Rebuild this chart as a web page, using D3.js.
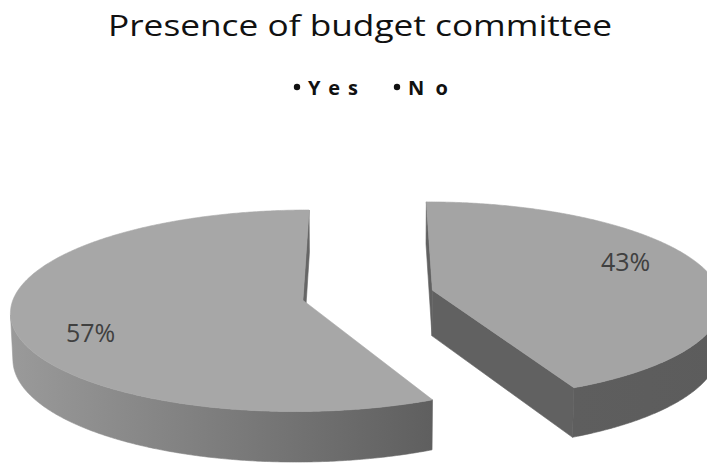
<!DOCTYPE html>
<html>
<head>
<meta charset="utf-8">
<script src="https://cdn.jsdelivr.net/npm/d3@7"></script>
<style>
  html, body { margin: 0; padding: 0; background: #fff; }
  svg { display: block; }
</style>
</head>
<body>
<svg id="chart" width="707" height="463"></svg>
<script>
// ---- data ----
const categories = ["Yes", "No"];
const values = [43, 57];
const valueLabels = ["43%", "57%"];
const chartTitle = "Presence of budget committee";

// ---- styles ----
const topColors = ["#a4a4a4", "#a7a7a7"];
const sideStops = [
  ["#606060", "#5c5c5c"],          // Yes: flat dark wall
  ["#9a9a9a", "#5f5f5f"]           // No: lighter on the left, darker towards the front
];
const cutColors = ["#616161", "#666666"];

const W = 707, H = 463;
const svg = d3.select("#chart");
const defs = svg.append("defs");

// ---- 3D pie camera (world units, pie radius = 1) ----
const tilt = 21 * Math.PI / 180;
const camDist = 9;
const focal = 2579;
const thickness = 0.17;
const explode = 0.23;
const originX = 368, originY = 341;
const cosT = Math.cos(tilt), sinT = Math.sin(tilt);

function project(x, y, z) {
  const d = camDist + z * cosT - y * sinT;
  return [originX + focal * x / d, originY - focal * (y * cosT + z * sinT) / d];
}
function area2(pts) {
  let s = 0;
  for (let i = 0; i < pts.length; i++) {
    const a = pts[i], b = pts[(i + 1) % pts.length];
    s += a[0] * b[1] - b[0] * a[1];
  }
  return s;
}
const line = d3.line();
const closed = pts => line(pts) + "Z";

const arcs = d3.pie().sort(null).value(d => d)(values);

const slices = arcs.map((p, i) => {
  const mid = (p.startAngle + p.endAngle) / 2;
  return { p, i, mid, ox: explode * Math.sin(mid), oz: explode * Math.cos(mid) };
});
// back slices first
slices.sort((a, b) => b.oz - a.oz);

const g = svg.append("g");

slices.forEach(s => {
  const { p, i, ox, oz } = s;
  const span = p.endAngle - p.startAngle;
  const n = Math.max(2, Math.ceil(span / (Math.PI / 360)));
  const angs = d3.range(n + 1).map(k => p.startAngle + span * k / n);
  const rimTop = angs.map(a => project(ox + Math.sin(a), thickness, oz + Math.cos(a)));
  const rimBot = angs.map(a => project(ox + Math.sin(a), 0, oz + Math.cos(a)));
  const cTop = project(ox, thickness, oz);
  const cBot = project(ox, 0, oz);

  const sg = g.append("g").attr("class", "slice slice-" + categories[i]);

  // gradient for the outer wall
  const xs = rimTop.map(d => d[0]);
  const gradId = "side-" + i;
  const grad = defs.append("linearGradient").attr("id", gradId)
    .attr("gradientUnits", "userSpaceOnUse")
    .attr("x1", d3.min(xs)).attr("x2", d3.max(xs)).attr("y1", 0).attr("y2", 0);
  grad.append("stop").attr("offset", 0).attr("stop-color", sideStops[i][0]);
  grad.append("stop").attr("offset", 1).attr("stop-color", sideStops[i][1]);

  // radial cut faces (only those facing the camera)
  const startFace = [cTop, rimTop[0], rimBot[0], cBot];
  const endFace = [rimTop[n], cTop, cBot, rimBot[n]];
  [startFace, endFace].forEach(face => {
    if (area2(face) < 0) {
      sg.append("path").attr("d", closed(face))
        .attr("fill", cutColors[i]).attr("stroke", cutColors[i]).attr("stroke-width", 0.6);
    }
  });

  // outer wall: runs of segments that face the camera
  const visible = d3.range(n).map(k => area2([rimTop[k], rimTop[k + 1], rimBot[k + 1], rimBot[k]]) < 0);
  let k = 0;
  while (k < n) {
    if (!visible[k]) { k++; continue; }
    let e = k;
    while (e + 1 < n && visible[e + 1]) e++;
    const poly = rimTop.slice(k, e + 2).concat(rimBot.slice(k, e + 2).reverse());
    sg.append("path").attr("d", closed(poly))
      .attr("fill", `url(#${gradId})`).attr("stroke", `url(#${gradId})`).attr("stroke-width", 0.6);
    k = e + 1;
  }

  // top face
  sg.append("path").attr("d", closed([cTop].concat(rimTop)))
    .attr("fill", topColors[i]).attr("stroke", topColors[i]).attr("stroke-width", 0.6);

  // value label on the top face, a little behind the bisector
  const r = 0.765, la = s.mid - 0.19;
  const lp = project(ox + r * Math.sin(la), thickness, oz + r * Math.cos(la));
  sg.append("text")
    .attr("x", lp[0]).attr("y", lp[1])
    .attr("text-anchor", "middle").attr("dominant-baseline", "central")
    .attr("font-family", "'Open Sans', sans-serif").attr("font-size", 25)
    .attr("fill", "#404040")
    .text(valueLabels[i]);
});

// ---- title ----
svg.append("text")
  .attr("x", 360).attr("y", 36)
  .attr("text-anchor", "middle")
  .attr("font-family", "'Open Sans', sans-serif").attr("font-size", 29)
  .attr("fill", "#111")
  .attr("textLength", 504).attr("lengthAdjust", "spacingAndGlyphs")
  .text(chartTitle);

// ---- legend ----
const legendX0 = 297, legendStep = 100, legendY = 95;
const legendWidths = [50, 40];
const lg = svg.append("g").attr("class", "legend");
categories.forEach((c, i) => {
  const x = legendX0 + i * legendStep;
  lg.append("circle").attr("cx", x).attr("cy", legendY - 8).attr("r", 3.2).attr("fill", "#111");
  lg.append("text")
    .attr("x", x + 11).attr("y", legendY)
    .attr("font-family", "'Open Sans', sans-serif").attr("font-weight", "bold").attr("font-size", 20)
    .attr("fill", "#111")
    .attr("textLength", legendWidths[i]).attr("lengthAdjust", "spacing")
    .text(c);
});
</script>
</body>
</html>
